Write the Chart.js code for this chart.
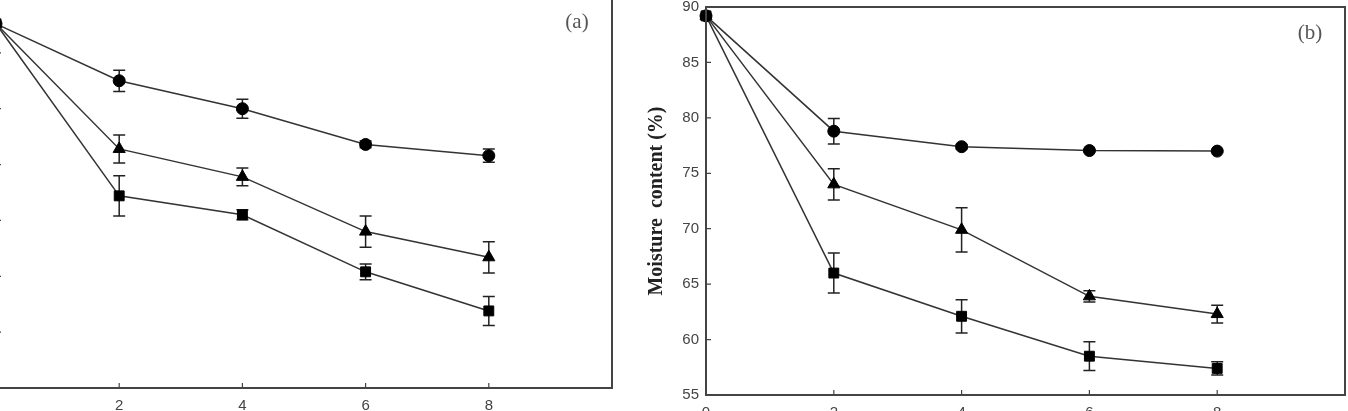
<!DOCTYPE html>
<html>
<head>
<meta charset="utf-8">
<script src="https://cdn.jsdelivr.net/npm/chart.js@4.4.0/dist/chart.umd.min.js"></script>
<style>
html,body{margin:0;padding:0;background:#fff;overflow:hidden;width:1348px;height:411px;position:relative}
#wrapA{position:absolute;left:-60px;top:-4px;width:674px;height:415px}
#wrapB{position:absolute;left:620px;top:0;width:728px;height:411px}
</style>
</head>
<body>
<div id="wrapA"><canvas id="chartA"></canvas></div>
<div id="wrapB"><canvas id="chartB"></canvas></div>
<script>
// drying time (x) shared by both panels
const days = [0, 2, 4, 6, 8];
const xTickLabels = ['0', '2', '4', '6', '8'];
const yMin = 55, yMax = 90, yStep = 5;

// panel (a)
const aCircle = [87.6, 82.5, 80.0, 76.8, 75.8];
const aCircleErr = [0, 0.95, 0.85, 0.3, 0.6];
const aTriangle = [87.6, 76.4, 73.9, 69.0, 66.7];
const aTriangleErr = [0, 1.25, 0.8, 1.4, 1.4];
const aSquare = [87.6, 72.2, 70.5, 65.4, 61.9];
const aSquareErr = [0, 1.8, 0.45, 0.7, 1.3];

// panel (b)
const bCircle = [89.2, 78.8, 77.4, 77.05, 77.0];
const bCircleErr = [0, 1.15, 0.2, 0.1, 0.1];
const bTriangle = [89.2, 74.0, 69.9, 63.9, 62.3];
const bTriangleErr = [0, 1.4, 2.0, 0.5, 0.8];
const bSquare = [89.2, 66.0, 62.1, 58.5, 57.4];
const bSquareErr = [0, 1.8, 1.5, 1.3, 0.6];

const lineCol = '#333';
const tickFont = {family: '"Liberation Sans",Arial,sans-serif', size: 15};

function pts(vals){
    return days.map((d,i)=>({x:d, y:vals[i]}));
}

function series(label, vals, errs, style, radius){
    return {
        label: label,
        data: pts(vals),
        errors: errs,
        borderColor: lineCol,
        borderWidth: 1.5,
        pointStyle: style,
        pointRadius: radius,
        pointBackgroundColor: '#000',
        pointBorderColor: '#000',
        pointBorderWidth: 1,
        clip: false
    };
}

// error bars, frame, inward ticks and panel letter
const extras = {
    id: 'extras',
    beforeDatasetsDraw(chart){
        const ctx = chart.ctx, xs = chart.scales.x, ys = chart.scales.y;
        ctx.save();
        ctx.strokeStyle = '#222';
        ctx.lineWidth = 1.5;
        chart.data.datasets.forEach(ds=>{
            ds.data.forEach((p,i)=>{
                const e = ds.errors[i];
                if(!e) return;
                const px = xs.getPixelForValue(p.x);
                const y1 = ys.getPixelForValue(p.y - e), y2 = ys.getPixelForValue(p.y + e);
                ctx.beginPath();
                ctx.moveTo(px, y1); ctx.lineTo(px, y2);
                ctx.moveTo(px-6, y1); ctx.lineTo(px+6, y1);
                ctx.moveTo(px-6, y2); ctx.lineTo(px+6, y2);
                ctx.stroke();
            });
        });
        ctx.restore();
    },
    afterDraw(chart, args, opts){
        const ctx = chart.ctx, a = chart.chartArea, xs = chart.scales.x, ys = chart.scales.y;
        ctx.save();
        ctx.strokeStyle = '#444';
        ctx.lineWidth = 2;
        ctx.strokeRect(a.left, a.top, a.right-a.left, a.bottom-a.top);
        ctx.lineWidth = 1.2;
        ctx.beginPath();
        ys.ticks.forEach(t=>{
            const py = ys.getPixelForValue(t.value);
            ctx.moveTo(a.left, py); ctx.lineTo(a.left+5, py);
        });
        xs.ticks.forEach(t=>{
            if(t.value<=0 || t.value>=10) return;
            const px = xs.getPixelForValue(t.value);
            ctx.moveTo(px, a.bottom); ctx.lineTo(px, a.bottom-5);
        });
        ctx.stroke();
        ctx.fillStyle = '#555';
        ctx.font = '21px "Liberation Serif", serif';
        ctx.textAlign = 'center';
        ctx.textBaseline = 'middle';
        ctx.fillText(opts.letter, a.right-opts.dx, a.top+opts.dy);
        ctx.restore();
    }
};

function makeChart(id, sets, cfg){
    return new Chart(document.getElementById(id), {
        type: 'line',
        data: {datasets: sets},
        plugins: [extras],
        options: {
            responsive: true,
            maintainAspectRatio: false,
            animation: false,
            layout: {autoPadding: false, padding: {top: cfg.padTop, right: cfg.padRight, left: 0, bottom: 0}},
            plugins: {
                legend: {display: false},
                tooltip: {enabled: false},
                extras: {letter: cfg.letter, dx: cfg.dx, dy: cfg.dy}
            },
            scales: {
                x: {
                    type: 'linear', min: 0, max: 10,
                    grid: {display: false, drawTicks: false},
                    border: {display: false},
                    ticks: {
                        stepSize: 2, padding: 9, color: '#444', font: tickFont, maxRotation: 0,
                        callback: (v)=> { const i = days.indexOf(v); return i<0 ? '' : xTickLabels[i]; }
                    },
                    afterFit: s=>{ s.height = cfg.xh; s.paddingLeft = 0; s.paddingRight = 0; }
                },
                y: {
                    type: 'linear', min: yMin, max: yMax,
                    grid: {display: false, drawTicks: false},
                    border: {display: false},
                    ticks: {stepSize: yStep, padding: 7, color: '#444', font: tickFont},
                    title: {
                        display: cfg.yTitle !== '',
                        text: cfg.yTitle,
                        color: '#222',
                        font: {family: '"Liberation Serif","Times New Roman",serif', size: 20, weight: 'bold'},
                        padding: {top: 25, bottom: 0}
                    },
                    afterFit: s=>{ s.width = cfg.yw; s.paddingTop = 0; s.paddingBottom = 0; }
                }
            }
        }
    });
}

makeChart('chartA', [
    series('Circle', aCircle, aCircleErr, 'circle', 6),
    series('Triangle', aTriangle, aTriangleErr, 'triangle', 7),
    series('Square', aSquare, aSquareErr, 'rect', 7)
], {padTop: 1, padRight: 2, xh: 23, yw: 56, yTitle: '', letter: '(a)', dx: 35, dy: 25});

makeChart('chartB', [
    series('Circle', bCircle, bCircleErr, 'circle', 6),
    series('Triangle', bTriangle, bTriangleErr, 'triangle', 7),
    series('Square', bSquare, bSquareErr, 'rect', 7)
], {padTop: 7, padRight: 3, xh: 16, yw: 86, yTitle: 'Moisture  content (%)', letter: '(b)', dx: 35, dy: 26});
</script>
</body>
</html>
